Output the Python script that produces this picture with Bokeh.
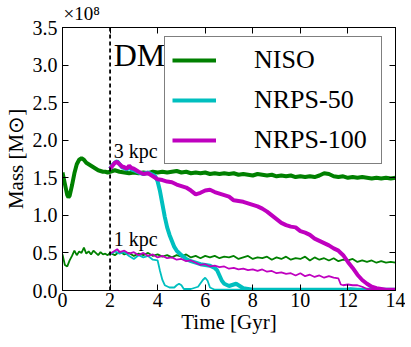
from bokeh.plotting import figure
from bokeh.models import (ColumnDataSource, Span, Title, Legend, LegendItem,
                          LinearAxis, FixedTicker, NumeralTickFormatter, Range1d,
                          CustomLabelingPolicy)
from bokeh.core.properties import value
from bokeh.embed import file_html
from bokeh.resources import INLINE

# ---------------- data (mass in units of 1e8 Msun, time in Gyr) ----------------
niso3_t = [0, 0.1, 0.2, 0.25, 0.3, 0.4, 0.5, 0.6, 0.7, 0.8, 0.9, 1.0, 1.1, 1.2, 1.3, 1.4,
           1.5, 1.6, 1.7, 1.8, 1.9, 2.0,
           2.2, 2.4, 2.6, 2.8, 3.0, 3.2, 3.4, 3.6, 3.8, 4.0, 4.2, 4.4, 4.6, 4.8, 5.0,
           5.2, 5.4, 5.6, 5.8, 6.0, 6.2, 6.4, 6.6, 6.8, 7.0, 7.2, 7.4, 7.6, 7.8, 8.0,
           8.2, 8.4, 8.6, 8.8, 9.0, 9.2, 9.4, 9.6, 9.8, 10.0, 10.2, 10.4, 10.6, 10.8,
           11.0, 11.2, 11.4, 11.6, 11.8, 12.0, 12.2, 12.4, 12.6, 12.8, 13.0, 13.2,
           13.4, 13.6, 13.8, 14.0]
niso3_m = [1.57, 1.42, 1.27, 1.24, 1.26, 1.40, 1.56, 1.68, 1.74, 1.76, 1.74, 1.70, 1.68,
           1.66, 1.64, 1.62, 1.60, 1.59, 1.58, 1.58, 1.57, 1.58,
           1.60, 1.58, 1.57, 1.56, 1.57, 1.56, 1.57, 1.56, 1.58, 1.57, 1.58, 1.57, 1.58,
           1.59, 1.57, 1.58, 1.56, 1.57, 1.56, 1.57, 1.55, 1.56, 1.55, 1.56, 1.55, 1.56,
           1.54, 1.55, 1.54, 1.53, 1.55, 1.54, 1.53, 1.54, 1.52, 1.53, 1.52, 1.53, 1.51,
           1.52, 1.51, 1.52, 1.51, 1.53, 1.56, 1.55, 1.52, 1.51, 1.52, 1.50, 1.51, 1.50,
           1.51, 1.50, 1.49, 1.50, 1.49, 1.50, 1.49, 1.50]

niso1_t = [0, 0.1, 0.2, 0.3, 0.4, 0.5, 0.6, 0.7, 0.8, 0.9, 1.0, 1.1, 1.2, 1.3, 1.4, 1.5,
           1.6, 1.7, 1.8, 1.9, 2.0,
           2.2, 2.4, 2.6, 2.8, 3.0, 3.2, 3.4, 3.6, 3.8, 4.0, 4.2, 4.4, 4.6, 4.8, 5.0,
           5.2, 5.4, 5.6, 5.8, 6.0, 6.2, 6.4, 6.6, 6.8, 7.0, 7.2, 7.4, 7.6, 7.8, 8.0,
           8.2, 8.4, 8.6, 8.8, 9.0, 9.2, 9.4, 9.6, 9.8, 10.0, 10.2, 10.4, 10.6, 10.8,
           11.0, 11.2, 11.4, 11.6, 11.8, 12.0, 12.2, 12.4, 12.6, 12.8, 13.0, 13.2,
           13.4, 13.6, 13.8, 14.0]
niso1_m = [0.48, 0.34, 0.32, 0.40, 0.46, 0.53, 0.47, 0.52, 0.50, 0.57, 0.49, 0.52, 0.48,
           0.53, 0.50, 0.47, 0.51, 0.48, 0.49, 0.47, 0.50,
           0.47, 0.52, 0.48, 0.50, 0.46, 0.49, 0.47, 0.50, 0.46, 0.48, 0.45, 0.47, 0.44,
           0.47, 0.45, 0.48, 0.44, 0.46, 0.43, 0.46, 0.44, 0.46, 0.43, 0.45, 0.44, 0.46,
           0.42, 0.44, 0.46, 0.42, 0.44, 0.43, 0.45, 0.41, 0.44, 0.42, 0.45, 0.41, 0.43,
           0.42, 0.45, 0.40, 0.44, 0.41, 0.43, 0.40, 0.43, 0.39, 0.41, 0.40, 0.42, 0.38,
           0.40, 0.38, 0.40, 0.37, 0.39, 0.37, 0.38, 0.37]

rps50_3_t = [2.0, 2.1, 2.2, 2.3, 2.4, 2.5, 2.6, 2.7, 2.8, 2.9, 3.0, 3.2, 3.4, 3.6, 3.8,
             3.9, 4.0, 4.1, 4.2, 4.3, 4.4, 4.5, 4.6, 4.7, 4.8, 5.0, 5.2, 5.4, 5.6, 5.8,
             6.0, 6.2, 6.4, 6.5, 6.6, 6.7, 6.8, 7.0, 7.2, 7.3, 7.4, 7.6, 7.8, 8.0, 14.0]
rps50_3_m = [1.62, 1.67, 1.70, 1.72, 1.68, 1.64, 1.63, 1.61, 1.64, 1.61, 1.60, 1.57, 1.55,
             1.57, 1.54, 1.52, 1.45, 1.32, 1.15, 0.98, 0.84, 0.74, 0.66, 0.58, 0.53, 0.47,
             0.42, 0.39, 0.37, 0.35, 0.34, 0.33, 0.30, 0.27, 0.20, 0.13, 0.09, 0.06, 0.08,
             0.09, 0.07, 0.03, 0.02, 0.01, 0.01]

rps50_1_t = [2.0, 2.2, 2.4, 2.6, 2.8, 3.0, 3.2, 3.4, 3.6, 3.8, 4.0, 4.1, 4.2, 4.3, 4.5,
             4.7, 4.8, 4.9, 5.0, 5.1, 5.4, 5.7, 5.9, 6.0, 6.1, 6.2, 6.4, 11.8, 12.1, 12.4,
             12.6, 14.0]
rps50_1_m = [0.48, 0.52, 0.49, 0.51, 0.46, 0.42, 0.47, 0.44, 0.46, 0.41, 0.40, 0.26, 0.14,
             0.07, 0.04, 0.04, 0.07, 0.09, 0.07, 0.02, 0.02, 0.05, 0.14, 0.17, 0.13, 0.04,
             0.01, 0.01, 0.03, 0.02, 0.01, 0.01]

rps100_3_t = [2.0, 2.1, 2.2, 2.3, 2.4, 2.5, 2.6, 2.7, 2.8, 2.9, 3.0, 3.2, 3.4, 3.6, 3.8,
              4.0, 4.2, 4.4, 4.6, 4.8, 5.0, 5.2, 5.4, 5.6, 5.8, 6.0, 6.2, 6.4, 6.6, 6.8,
              7.0, 7.2, 7.4, 7.6, 7.8, 8.0, 8.2, 8.4, 8.6, 8.8, 9.0, 9.2, 9.4, 9.6, 9.8,
              10.0, 10.2, 10.4, 10.6, 10.8, 11.0, 11.2, 11.4, 11.6, 11.8, 12.0, 12.2,
              12.4, 12.6, 12.8, 13.0, 13.2, 13.4, 13.6, 14.0]
rps100_3_m = [1.62, 1.66, 1.70, 1.71, 1.68, 1.65, 1.64, 1.62, 1.66, 1.63, 1.62, 1.58, 1.55,
              1.56, 1.52, 1.48, 1.47, 1.45, 1.44, 1.41, 1.39, 1.37, 1.33, 1.28, 1.30, 1.33,
              1.34, 1.31, 1.29, 1.27, 1.25, 1.20, 1.19, 1.18, 1.16, 1.14, 1.12, 1.09, 1.05,
              1.00, 0.95, 0.90, 0.87, 0.85, 0.84, 0.79, 0.77, 0.74, 0.69, 0.66, 0.63, 0.60,
              0.56, 0.53, 0.47, 0.38, 0.30, 0.21, 0.14, 0.09, 0.05, 0.03, 0.02, 0.01, 0.01]

rps100_1_t = [2.0, 2.2, 2.3, 2.4, 2.6, 2.8, 3.0, 3.2, 3.4, 3.6, 3.8, 4.0, 4.2, 4.4, 4.6,
              4.8, 5.0, 5.2, 5.4, 5.6, 5.8, 6.0, 6.2, 6.4, 6.6, 6.8, 7.0, 7.2, 7.4, 7.6,
              7.8, 8.0, 8.2, 8.4, 8.6, 8.8, 9.0, 9.2, 9.4, 9.6, 9.8, 10.0, 10.2, 10.4,
              10.6, 10.8, 11.0, 11.2, 11.4, 11.6, 11.7, 11.8, 12.0, 12.2, 12.4, 12.6,
              12.8, 13.0, 14.0]
rps100_1_m = [0.49, 0.53, 0.55, 0.51, 0.53, 0.49, 0.51, 0.47, 0.50, 0.46, 0.48, 0.44, 0.46,
              0.43, 0.44, 0.41, 0.42, 0.39, 0.40, 0.37, 0.34, 0.35, 0.32, 0.33, 0.31, 0.32,
              0.29, 0.30, 0.28, 0.29, 0.27, 0.28, 0.26, 0.28, 0.25, 0.26, 0.23, 0.24, 0.22,
              0.23, 0.20, 0.23, 0.19, 0.21, 0.18, 0.20, 0.17, 0.19, 0.17, 0.16, 0.08, 0.07,
              0.08, 0.07, 0.07, 0.05, 0.02, 0.01, 0.01]

x_ticks = [0, 2, 4, 6, 8, 10, 12, 14]
y_ticks = [0.0, 0.5, 1.0, 1.5, 2.0, 2.5, 3.0, 3.5]
series_names = ["NISO", "NRPS-50", "NRPS-100"]
radius_labels = ["3 kpc", "1 kpc"]
dm_label = "DM"
scale_label = "×10⁸"
t_start = 2.0

GREEN = "#008000"
CYAN = "#00BFBF"
MAGENTA = "#BF00BF"
FONT = "Times New Roman"

p = figure(width=405, height=345, output_backend="svg", toolbar_location=None,
           x_range=Range1d(0, 14), y_range=Range1d(0, 3.5),
           min_border_left=62, min_border_right=10, min_border_top=0,
           min_border_bottom=55)
p.xgrid.visible = False
p.ygrid.visible = False
p.outline_line_color = "black"
p.outline_line_width = 1
p.background_fill_color = "white"
p.border_fill_color = "white"

hide_all = CustomLabelingPolicy(
    code="for (const i of Array.from(indices)) { indices.set(i, false) } return indices")

def style_axis(ax, show_labels=True):
    ax.major_tick_in = 6
    ax.major_tick_out = 0
    ax.minor_tick_line_color = None
    ax.axis_line_color = "black"
    ax.major_tick_line_color = "black"
    ax.major_label_text_font = FONT
    ax.major_label_text_color = "black"
    ax.axis_label_text_font = FONT
    ax.axis_label_text_font_style = "normal"
    ax.axis_label_text_color = "black"
    if show_labels:
        ax.major_label_text_font_size = "20px"
        ax.axis_label_text_font_size = "21px"
    else:
        ax.major_label_text_font_size = "1px"
        ax.major_label_standoff = 0
        ax.major_label_policy = hide_all

p.xaxis.ticker = FixedTicker(ticks=x_ticks)
p.yaxis.ticker = FixedTicker(ticks=y_ticks)
p.yaxis.formatter = NumeralTickFormatter(format="0.0")
p.xaxis.axis_label = "Time [Gyr]"
p.yaxis.axis_label = "Mass [M⊙]"
style_axis(p.xaxis[0])
style_axis(p.yaxis[0])
p.xaxis.major_label_standoff = 2
p.yaxis.major_label_standoff = 5
p.xaxis.axis_label_standoff = 0
p.yaxis.axis_label_standoff = 2

top_ax = LinearAxis(ticker=FixedTicker(ticks=x_ticks))
right_ax = LinearAxis(ticker=FixedTicker(ticks=y_ticks))
style_axis(top_ax, False)
style_axis(right_ax, False)
p.add_layout(top_ax, "above")
p.add_layout(right_ax, "right")

# offset text (x10^8) as a left-aligned title above the frame
p.add_layout(Title(text=scale_label, align="left", offset=1, standoff=0,
                   text_font=FONT, text_font_size="19px", text_font_style="normal",
                   text_color="black"), "above")

# curves
g3 = p.line(niso3_t, niso3_m, line_color=GREEN, line_width=4)
g1 = p.line(niso1_t, niso1_m, line_color=GREEN, line_width=1.8)
c3 = p.line(rps50_3_t, rps50_3_m, line_color=CYAN, line_width=4)
c1 = p.line(rps50_1_t, rps50_1_m, line_color=CYAN, line_width=1.8)
m3 = p.line(rps100_3_t, rps100_3_m, line_color=MAGENTA, line_width=4)
m1 = p.line(rps100_1_t, rps100_1_m, line_color=MAGENTA, line_width=1.8)

p.add_layout(Span(location=t_start, dimension="height", line_color="black",
                  line_width=1.8, line_dash="4 3"))

# text labels inside the plot
lab_src = ColumnDataSource(dict(x=[2.15, 2.15], y=[1.86, 0.69], text=radius_labels))
p.text(x="x", y="y", text="text", source=lab_src, text_font=value(FONT),
       text_font_size="20px", text_color="black", text_baseline="middle")
dm_src = ColumnDataSource(dict(x=[2.15], y=[3.14], text=[dm_label]))
p.text(x="x", y="y", text="text", source=dm_src, text_font=value(FONT),
       text_font_size="32px", text_color="black", text_baseline="middle")

legend = Legend(items=[LegendItem(label=series_names[0], renderers=[g3]),
                       LegendItem(label=series_names[1], renderers=[c3]),
                       LegendItem(label=series_names[2], renderers=[m3])],
                location=(102, 126))
legend.label_text_font = FONT
legend.label_text_font_size = "26px"
legend.label_text_color = "black"
legend.padding = 7
legend.spacing = 8
legend.glyph_width = 44
legend.glyph_height = 32
legend.label_height = 32
legend.label_width = 120
legend.label_standoff = 38
legend.border_line_color = "black"
legend.border_line_width = 1
legend.background_fill_color = "white"
legend.background_fill_alpha = 1.0
legend.margin = 0
p.add_layout(legend)

open("out.html", "w").write(file_html(p, INLINE))
